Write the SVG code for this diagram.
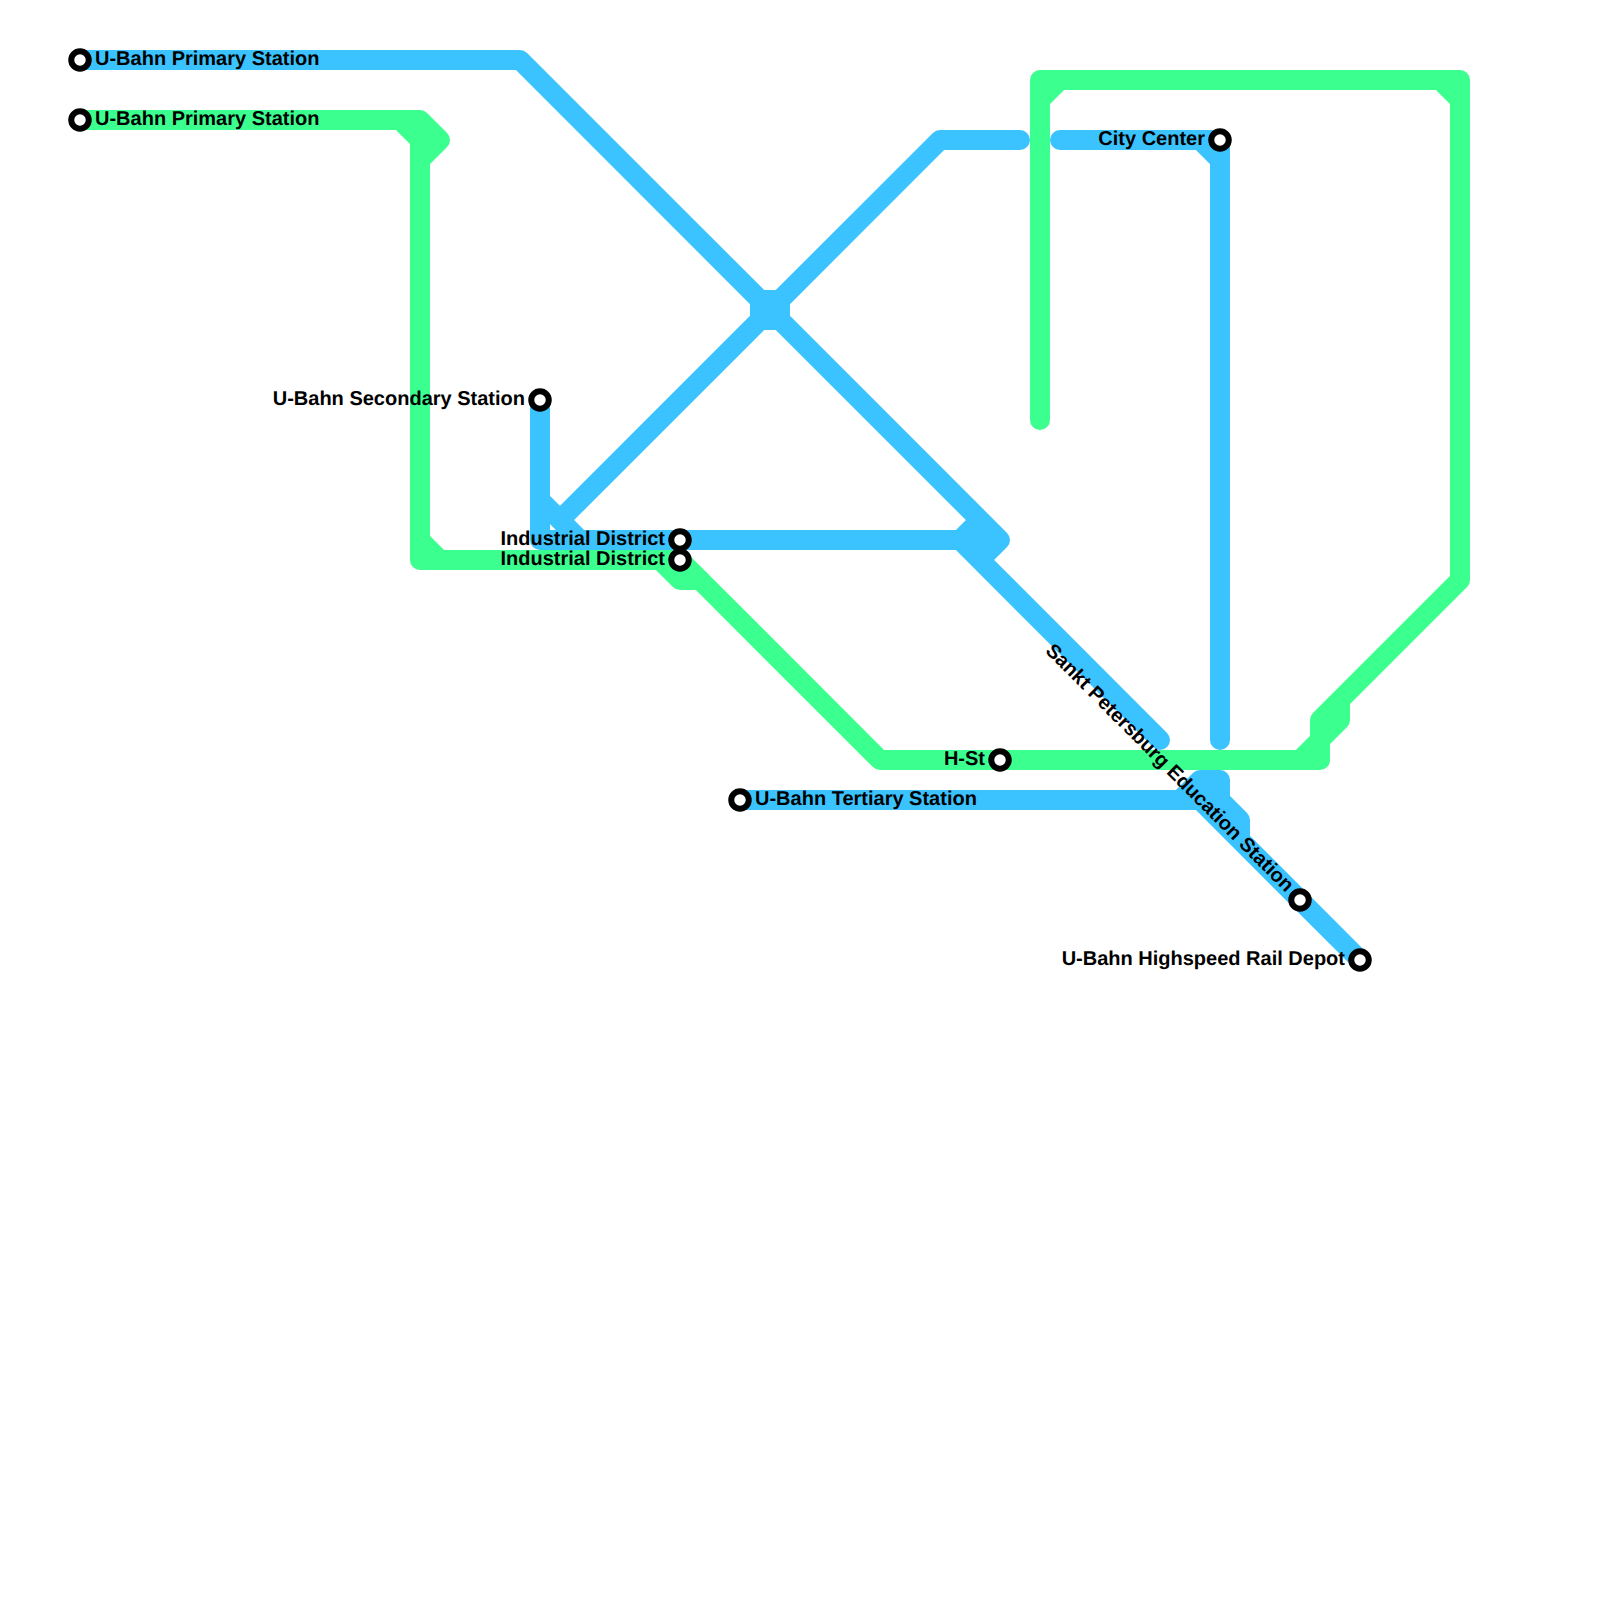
<svg xmlns="http://www.w3.org/2000/svg" width="1600" height="1600" viewBox="0 0 1600 1600">
<style>
.ln{fill:none;stroke-width:20;stroke-linecap:round;stroke-linejoin:round}
.g{stroke:#3bff8f}
.b{stroke:#3bc3ff}
.st{fill:#fff;stroke:#000;stroke-width:6}
text{font-family:"Liberation Sans",Arial,sans-serif;font-weight:bold;font-size:20px;fill:#000;text-rendering:geometricPrecision}
.e{text-anchor:end}
</style>
<rect width="1600" height="1600" fill="#fff"/>
<g id="connectors">
<g id="line-green" class="ln g">
<path d="M80 120H420L440 140L420 160V560H660L680 580H700M400 120L420 140V160M420 540L440 560"/>
<path d="M660 560H680L880 760H1320V740L1340 720V700M1300 760L1320 740V720L1460 580V80H1040V420M1040 100L1060 80M1440 80L1460 100"/>
</g>
<g id="line-blue" class="ln b">
<path d="M80 60H520L1000 540L980 560L960 540L980 520M960 540H1000M960 540L1160 740"/>
<path d="M540 400V540H960M540 500L580 540M560 520L940 140H1020M1060 140H1220V740M1200 140L1220 160"/>
<path d="M740 800H1220V780H1200L1180 800M1220 800L1240 820V840M1200 800L1360 960M1200 800V780"/>
<rect x="760" y="300" width="20" height="20"/>
</g>
</g>
<g id="n1"><circle class="st" cx="80" cy="60" r="8.75"/><text x="95" y="65">U-Bahn Primary Station</text></g>
<g id="n2"><circle class="st" cx="80" cy="120" r="8.75"/><text x="95" y="125">U-Bahn Primary Station</text></g>
<g id="n3"><circle class="st" cx="540" cy="400" r="8.75"/><text class="e" x="525" y="405">U-Bahn Secondary Station</text></g>
<g id="n4"><circle class="st" cx="680" cy="540" r="8.75"/><text class="e" x="665" y="545">Industrial District</text></g>
<g id="n5"><circle class="st" cx="680" cy="560" r="8.75"/><text class="e" x="665" y="565">Industrial District</text></g>
<g id="n6"><circle class="st" cx="1220" cy="140" r="8.75"/><text class="e" x="1205" y="145">City Center</text></g>
<g id="n7"><circle class="st" cx="1000" cy="760" r="8.75"/><text class="e" x="985" y="765">H-St</text></g>
<g id="n8"><circle class="st" cx="740" cy="800" r="8.75"/><text x="755" y="805">U-Bahn Tertiary Station</text></g>
<g id="n9"><circle class="st" cx="1300" cy="900" r="8.75"/><text class="e" x="1285" y="905" transform="rotate(45 1300 900)">Sankt Petersburg Education Station</text></g>
<g id="n10"><circle class="st" cx="1360" cy="960" r="8.75"/><text class="e" x="1345" y="965">U-Bahn Highspeed Rail Depot</text></g>
</svg>
